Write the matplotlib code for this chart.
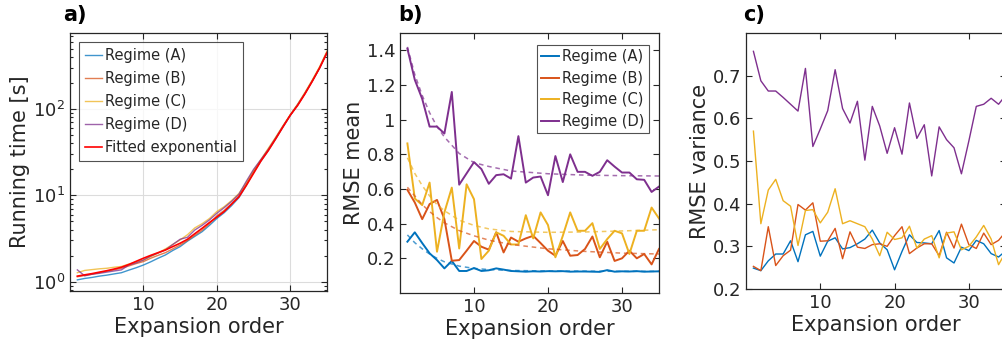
import numpy as np
import matplotlib
matplotlib.use("Agg")
import matplotlib.pyplot as plt
from matplotlib.ticker import FixedLocator, FuncFormatter, LogLocator, NullFormatter

plt.rcParams['font.family'] = ['DejaVu Sans']
plt.rcParams['text.color'] = '#262626'
plt.rcParams['axes.labelcolor'] = '#262626'
plt.rcParams['xtick.color'] = '#262626'
plt.rcParams['ytick.color'] = '#262626'

order = np.arange(1, 36)
regimes = ['Regime (A)', 'Regime (B)', 'Regime (C)', 'Regime (D)']
colors = ['#0072BD', '#D95319', '#EDB120', '#7E2F8E']

# a) running time [s]
time_a = [1.05, 1.09, 1.12, 1.16, 1.19, 1.23, 1.27, 1.36, 1.45, 1.56, 1.7, 1.87, 2.04, 2.3, 2.55, 2.95, 3.35, 3.8,
          4.5, 5.4, 6.3, 7.6, 9.4, 13, 18.5, 25, 33, 45, 62, 84, 112, 152, 212, 300, 450]
time_b = [1.14, 1.18, 1.22, 1.27, 1.32, 1.37, 1.43, 1.52, 1.62, 1.71, 1.87, 2.02, 2.17, 2.4, 2.66, 3.0, 3.45, 3.95,
          4.7, 5.8, 6.7, 8.0, 9.8, 13.5, 19, 25.5, 34, 46, 63, 85, 112, 152, 212, 302, 455]
time_c = [1.27, 1.35, 1.38, 1.41, 1.43, 1.47, 1.5, 1.6, 1.68, 1.78, 1.95, 2.15, 2.4, 2.7, 3.05, 3.5, 4.2, 4.7,
          5.4, 6.5, 7.4, 8.7, 10.5, 14, 19.5, 26, 35, 47, 64, 86, 114, 156, 218, 310, 470]
time_d = [1.37, 1.17, 1.22, 1.25, 1.29, 1.33, 1.37, 1.56, 1.65, 1.78, 1.98, 2.15, 2.33, 2.7, 3.1, 3.27, 3.97, 4.5,
          5.2, 6.2, 7.2, 8.5, 10.3, 14.5, 20, 26, 34, 46, 63, 85, 112, 152, 212, 300, 452]
time_fit = [1.16, 1.20, 1.24, 1.29, 1.34, 1.40, 1.47, 1.58, 1.72, 1.87, 2.02, 2.17, 2.33, 2.55, 2.79, 3.1, 3.6, 4.16,
            4.85, 5.6, 6.5, 7.9, 9.6, 13, 18, 25, 33, 45, 62, 85, 110, 150, 210, 300, 449]

# b) RMSE mean
mean_a = [0.296, 0.35, 0.288, 0.229, 0.19, 0.142, 0.185, 0.127, 0.127, 0.144, 0.127, 0.131, 0.142, 0.135, 0.127,
          0.125, 0.123, 0.125, 0.124, 0.126, 0.125, 0.126, 0.123, 0.124, 0.124, 0.123, 0.122, 0.132, 0.123, 0.125,
          0.124, 0.126, 0.123, 0.124, 0.125]
mean_b = [0.595, 0.522, 0.426, 0.513, 0.537, 0.426, 0.186, 0.19, 0.244, 0.30, 0.267, 0.25, 0.35, 0.234, 0.32,
          0.296, 0.315, 0.33, 0.288, 0.244, 0.215, 0.30, 0.215, 0.219, 0.254, 0.326, 0.206, 0.296, 0.185, 0.20,
          0.244, 0.20, 0.225, 0.165, 0.254]
mean_c = [0.863, 0.545, 0.507, 0.637, 0.238, 0.465, 0.608, 0.257, 0.627, 0.541, 0.196, 0.244, 0.35, 0.33, 0.28,
          0.28, 0.449, 0.315, 0.465, 0.392, 0.206, 0.33, 0.465, 0.359, 0.359, 0.403, 0.254, 0.311, 0.359, 0.344,
          0.225, 0.359, 0.359, 0.493, 0.43]
mean_d = [1.41, 1.23, 1.12, 0.96, 0.96, 0.92, 1.16, 0.625, 0.69, 0.755, 0.715, 0.63, 0.68, 0.685, 0.66, 0.905,
          0.637, 0.666, 0.672, 0.564, 0.79, 0.64, 0.80, 0.699, 0.699, 0.676, 0.699, 0.766, 0.729, 0.695, 0.695,
          0.656, 0.653, 0.583, 0.614]

fit_order = [1, 2, 3, 4, 5, 6, 8, 10, 12, 15, 20, 25, 30, 35]
fit_a = [0.335, 0.29, 0.255, 0.225, 0.20, 0.18, 0.155, 0.142, 0.135, 0.13, 0.127, 0.126, 0.125, 0.125]
fit_b = [0.61, 0.56, 0.51, 0.47, 0.435, 0.405, 0.36, 0.33, 0.305, 0.28, 0.255, 0.24, 0.23, 0.225]
fit_c = [0.78, 0.69, 0.62, 0.56, 0.51, 0.475, 0.42, 0.39, 0.37, 0.355, 0.35, 0.352, 0.358, 0.365]
fit_d = [1.42, 1.26, 1.14, 1.04, 0.96, 0.9, 0.805, 0.752, 0.73, 0.704, 0.688, 0.68, 0.677, 0.675]

# c) RMSE variance
var_a = [0.249, 0.243, 0.266, 0.282, 0.282, 0.313, 0.264, 0.327, 0.335, 0.277, 0.312, 0.320, 0.294, 0.297, 0.306,
         0.317, 0.338, 0.308, 0.292, 0.245, 0.288, 0.327, 0.309, 0.308, 0.306, 0.337, 0.273, 0.261, 0.298, 0.290,
         0.314, 0.306, 0.283, 0.275, 0.29]
var_b = [0.253, 0.243, 0.346, 0.255, 0.278, 0.291, 0.398, 0.385, 0.402, 0.312, 0.313, 0.342, 0.271, 0.334, 0.298,
         0.295, 0.304, 0.306, 0.30, 0.325, 0.346, 0.283, 0.296, 0.306, 0.306, 0.278, 0.333, 0.296, 0.352, 0.304,
         0.295, 0.331, 0.304, 0.314, 0.335]
var_c = [0.57, 0.353, 0.432, 0.457, 0.407, 0.394, 0.302, 0.384, 0.386, 0.355, 0.380, 0.435, 0.353, 0.360, 0.353,
         0.346, 0.317, 0.278, 0.333, 0.316, 0.32, 0.347, 0.296, 0.317, 0.325, 0.273, 0.331, 0.334, 0.292, 0.30,
         0.322, 0.349, 0.317, 0.257, 0.288]
var_d = [0.757, 0.688, 0.664, 0.664, 0.649, 0.633, 0.617, 0.717, 0.534, 0.575, 0.618, 0.714, 0.623, 0.589, 0.640,
         0.502, 0.628, 0.582, 0.518, 0.578, 0.516, 0.636, 0.553, 0.585, 0.465, 0.580, 0.550, 0.531, 0.470, 0.547,
         0.628, 0.633, 0.647, 0.633, 0.655]

W, H = 1003, 354
fig = plt.figure(figsize=(W / 100, H / 100), dpi=100)

def box(l, r, t, b):
    return [l / W, 1 - b / H, (r - l) / W, (b - t) / H]

ax1 = fig.add_axes(box(70, 327, 33, 291))
ax2 = fig.add_axes(box(400, 659, 33, 293))
ax3 = fig.add_axes(box(746, 1006, 33, 289))

for ax in (ax1, ax2, ax3):
    ax.tick_params(direction='in', which='both', top=True, right=True, labelsize=13, length=4, width=0.8)
    for s in ax.spines.values():
        s.set_color('#262626')
        s.set_linewidth(0.9)
    ax.set_xlim(0, 35)
    ax.set_xticks([10, 20, 30])
    ax.set_xlabel('Expansion order', fontsize=15, labelpad=2)

# panel a
for y, c, lab in zip([time_a, time_b, time_c, time_d], colors, regimes):
    ax1.plot(order, y, color=c, lw=1.0, alpha=0.75, label=lab)
ax1.plot(order, time_fit, color='#FF0000', lw=1.2, label='Fitted exponential')
ax1.set_yscale('log')
ax1.set_ylim(0.78, 760)
ax1.yaxis.set_major_locator(LogLocator(base=10, numticks=10))
ax1.yaxis.set_minor_locator(LogLocator(base=10, subs=np.arange(2, 10), numticks=10))
ax1.yaxis.set_minor_formatter(NullFormatter())
ax1.tick_params(which='minor', length=2)
ax1.grid(True, which='major', color='#dcdcdc', lw=0.8)
ax1.set_axisbelow(True)
ax1.set_ylabel('Running time [s]', fontsize=15, labelpad=2)
leg = ax1.legend(loc='upper left', bbox_to_anchor=(0.035, 0.965), fontsize=10.5, frameon=True, fancybox=False,
                 edgecolor='#262626', handlelength=1.2, handletextpad=0.2, borderpad=0.4, labelspacing=0.55,
                 borderaxespad=0)
leg.get_frame().set_linewidth(0.8)

# panel b
for y, c, lab in zip([mean_a, mean_b, mean_c, mean_d], colors, regimes):
    ax2.plot(order, y, color=c, lw=1.4, label=lab)
for y, c in zip([fit_a, fit_b, fit_c, fit_d], colors):
    ax2.plot(fit_order, y, color=c, lw=1.1, alpha=0.7, linestyle=(0, (3, 2.5)))
ax2.set_ylim(0, 1.5)
ax2.yaxis.set_major_locator(FixedLocator([0.2, 0.4, 0.6, 0.8, 1.0, 1.2, 1.4]))
ax2.yaxis.set_major_formatter(FuncFormatter(lambda v, p: '%g' % v))
ax2.set_ylabel('RMSE mean', fontsize=15, labelpad=2)
leg2 = ax2.legend(loc='upper right', bbox_to_anchor=(0.96, 0.955), fontsize=10.5, frameon=True, fancybox=False,
                  edgecolor='#262626', handlelength=1.2, handletextpad=0.2, borderpad=0.3, labelspacing=0.45,
                  borderaxespad=0)
leg2.get_frame().set_linewidth(0.8)

# panel c
for y, c in zip([var_a, var_b, var_c, var_d], colors):
    ax3.plot(order, y, color=c, lw=1.0)
ax3.set_ylim(0.2, 0.8)
ax3.yaxis.set_major_locator(FixedLocator([0.2, 0.3, 0.4, 0.5, 0.6, 0.7]))
ax3.yaxis.set_major_formatter(FuncFormatter(lambda v, p: '%g' % v))
ax3.set_ylabel('RMSE variance', fontsize=15, labelpad=2)

fig.text(63 / W, 1 - 15 / H, 'a)', fontsize=15, fontweight='bold', va='center', ha='left', color='black')
fig.text(398 / W, 1 - 15 / H, 'b)', fontsize=15, fontweight='bold', va='center', ha='left', color='black')
fig.text(743 / W, 1 - 15 / H, 'c)', fontsize=15, fontweight='bold', va='center', ha='left', color='black')

fig.savefig('out.png', dpi=100)
